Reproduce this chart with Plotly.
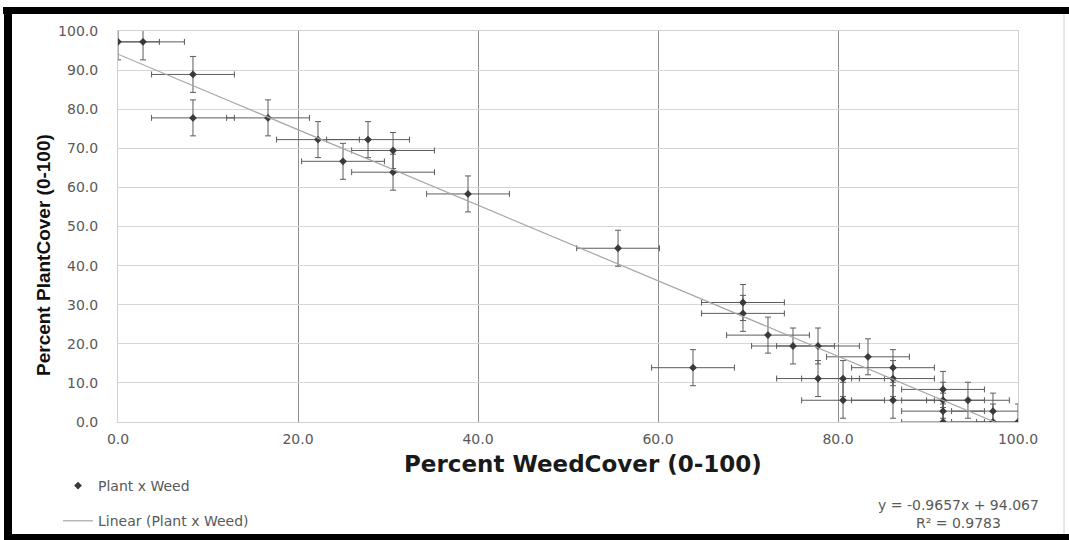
import plotly.graph_objects as go

# ---- data ----
weed_cover = [0.0, 2.78, 8.33, 8.33, 16.67, 22.22, 25.0, 27.78, 30.56, 30.56,
              38.89, 55.56, 63.89, 69.44, 69.44, 72.22, 75.0, 77.78, 77.78, 80.56,
              80.56, 83.33, 86.11, 86.11, 86.11, 91.67, 91.67, 91.67, 91.67, 94.44,
              97.22, 97.22, 100.0]
plant_cover = [97.22, 97.22, 88.89, 77.78, 77.78, 72.22, 66.67, 72.22, 69.44, 63.89,
               58.33, 44.44, 13.89, 30.56, 27.78, 22.22, 19.44, 19.44, 11.11, 11.11,
               5.56, 16.67, 13.89, 11.11, 5.56, 8.33, 5.56, 2.78, 0.0, 5.56,
               2.78, 0.0, 0.0]
weed_err = 4.6
plant_err = 4.6
slope = -0.9657
intercept = 94.067
r_squared = 0.9783
fit_x = [0.0, 100.0]
fit_y = [slope * v + intercept for v in fit_x]
x_ticks = [0, 20, 40, 60, 80, 100]
y_ticks = [0, 10, 20, 30, 40, 50, 60, 70, 80, 90, 100]
x_title = "Percent WeedCover (0-100)"
y_title = "Percent PlantCover (0-100)"

W, H = 1069, 540
L, R, T, B = 118, 51, 31, 118
PW, PH = W - L - R, H - T - B


def px(p):
    return (p - L) / PW


def py(p):
    return (H - B - p) / PH


fig = go.Figure()
fig.add_trace(go.Scatter(
    x=weed_cover, y=plant_cover, mode="markers", name="Plant x Weed",
    legendgroup="a",
    marker=dict(symbol="diamond", size=6, color="#3a3a3a"),
    error_x=dict(type="constant", value=weed_err, color="#5c5c5c", thickness=1, width=3),
    error_y=dict(type="constant", value=plant_err, color="#5c5c5c", thickness=1, width=3),
))
fig.add_trace(go.Scatter(
    x=fit_x, y=fit_y, mode="lines", name="Linear (Plant x Weed)",
    legendgroup="b",
    line=dict(color="#a6a6a6", width=1.2),
))

tick_font = dict(family="DejaVu Sans, Verdana, sans-serif", size=14, color="#595959")

fig.update_xaxes(
    range=[0, 100], tickvals=x_ticks, tickformat=".1f",
    showgrid=True, gridcolor="#8f8f8f", gridwidth=1,
    showline=True, linecolor="#d0d0d0", mirror=True, zeroline=False,
    ticks="", tickfont=tick_font, ticklabelstandoff=4,
)
fig.update_yaxes(
    range=[0, 100], tickvals=y_ticks, tickformat=".1f",
    showgrid=True, gridcolor="#d6d6d6", gridwidth=1,
    showline=True, linecolor="#d0d0d0", mirror=True, zeroline=False,
    ticks="", tickfont=tick_font, ticklabelstandoff=16,
)

shapes = [
    dict(type="rect", xref="paper", yref="paper", x0=px(3), x1=px(1069), y0=py(14), y1=py(7),
         fillcolor="black", line=dict(width=0), layer="above"),
    dict(type="rect", xref="paper", yref="paper", x0=px(4), x1=px(12), y0=py(540), y1=py(7),
         fillcolor="black", line=dict(width=0), layer="above"),
    dict(type="rect", xref="paper", yref="paper", x0=px(4), x1=px(1069), y0=py(540), y1=py(534),
         fillcolor="black", line=dict(width=0), layer="above"),
    dict(type="line", xref="paper", yref="paper", x0=px(1064), x1=px(1064), y0=py(534), y1=py(14),
         line=dict(color="#d0d0d0", width=1), layer="above"),
]

annotations = [
    dict(xref="paper", yref="paper", x=px(958), y=py(514), xanchor="center", yanchor="middle",
         text=f"y = {slope}x + {intercept}<br>R² = {r_squared}", showarrow=False, align="center",
         font=dict(family="DejaVu Sans, Verdana, sans-serif", size=14, color="#595959")),
    dict(xref="paper", yref="paper", x=px(583), y=py(464), xanchor="center", yanchor="middle",
         text=f"<b>{x_title}</b>", showarrow=False,
         font=dict(family="DejaVu Sans, Verdana, sans-serif", size=23, color="#1a1a1a")),
    dict(xref="paper", yref="paper", x=px(43), y=py(255), xanchor="center", yanchor="middle",
         text=f"<b>{y_title}</b>", showarrow=False, textangle=-90,
         font=dict(family="Liberation Sans, Arial, sans-serif", size=19, color="#111111")),
]

fig.update_layout(
    width=W, height=H,
    margin=dict(l=L, r=R, t=T, b=B, autoexpand=False),
    paper_bgcolor="white", plot_bgcolor="white",
    showlegend=True,
    legend=dict(x=px(58), y=py(470), xanchor="left", yanchor="top",
                traceorder="grouped", tracegroupgap=14,
                font=dict(family="DejaVu Sans, Verdana, sans-serif", size=14, color="#595959"),
                bgcolor="rgba(0,0,0,0)"),
    shapes=shapes,
    annotations=annotations,
)

fig.write_html("out.html", config={"displayModeBar": False},
               post_script="document.body.style.margin='0';document.body.style.overflow='hidden';")
